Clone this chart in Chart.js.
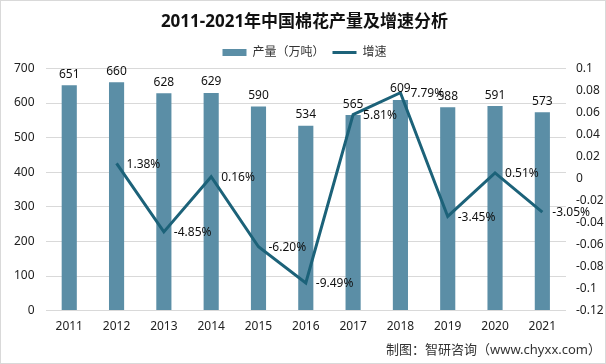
<!DOCTYPE html>
<html>
<head>
<meta charset="utf-8">
<script src="https://cdn.jsdelivr.net/npm/chart.js@4"></script>
<style>
  html, body { margin: 0; padding: 0; background: #fff; }
  #wrap { width: 606px; height: 364px; }
</style>
</head>
<body>
<div id="wrap"><canvas id="myChart" width="606" height="364"></canvas></div>
<script>
const years = ['2011', '2012', '2013', '2014', '2015', '2016', '2017', '2018', '2019', '2020', '2021'];
const output = [651, 660, 628, 629, 590, 534, 565, 609, 588, 591, 573];
const growth = [null, 1.38, -4.85, 0.16, -6.20, -9.49, 5.81, 7.79, -3.45, 0.51, -3.05];
const leftTicks = [0, 100, 200, 300, 400, 500, 600, 700];
const rightTicks = [-0.12, -0.1, -0.08, -0.06, -0.04, -0.02, 0, 0.02, 0.04, 0.06, 0.08, 0.1];

const barColor = '#5b8ea6';
const lineColor = '#1c6279';
const font = '"Noto Sans", "Noto Sans CJK SC", sans-serif';

const cts = document.querySelector('#myChart').getContext('2d');

// value labels, footer and frame
const extras = {
    id: 'extras',
    beforeDraw(chart) {
        const c = chart.ctx;
        c.save();
        c.fillStyle = '#fff';
        c.fillRect(0, 0, chart.width, chart.height);
        c.restore();
    },
    afterDatasetsDraw(chart) {
        const c = chart.ctx;
        c.save();
        c.font = '12px ' + font;
        c.fillStyle = '#111';
        const bars = chart.getDatasetMeta(0).data;
        c.textAlign = 'center';
        c.textBaseline = 'bottom';
        bars.forEach((b, i) => {
            c.fillText(String(output[i]), b.x, b.y - 5);
        });
        const pts = chart.getDatasetMeta(1).data;
        c.textAlign = 'left';
        c.textBaseline = 'middle';
        pts.forEach((p, i) => {
            if (growth[i] === null) return;
            c.fillText(growth[i].toFixed(2) + '%', p.x + 10, p.y + 1);
        });
        c.restore();
    },
    afterDraw(chart) {
        const c = chart.ctx;
        c.save();
        c.font = '13px ' + font;
        c.fillStyle = '#333';
        c.textAlign = 'right';
        c.textBaseline = 'middle';
        c.fillText('制图：智研咨询（www.chyxx.com）', 601, 350);
        c.strokeStyle = '#d9d9d9';
        c.lineWidth = 1;
        c.strokeRect(0.5, 0.5, chart.width - 1, chart.height - 1);
        c.restore();
    }
};

const data = {
    labels: years,
    datasets: [
        {
            type: 'bar',
            label: '产量（万吨）',
            data: output,
            backgroundColor: barColor,
            borderWidth: 0,
            barPercentage: 0.32,
            categoryPercentage: 1,
            yAxisID: 'y',
            order: 1,
        },
        {
            type: 'line',
            label: '增速',
            data: growth.map(v => v === null ? null : v / 100),
            borderColor: lineColor,
            backgroundColor: lineColor,
            borderWidth: 3,
            pointRadius: 0,
            tension: 0,
            yAxisID: 'y1',
            order: 0,
        },
    ],
};

const config = {
    type: 'bar',
    data: data,
    plugins: [extras],
    options: {
        responsive: false,
        animation: false,
        layout: { padding: { left: 3, right: 0, top: 0, bottom: 21 } },
        plugins: {
            tooltip: { enabled: false },
            title: {
                display: true,
                text: '2011-2021年中国棉花产量及增速分析',
                color: '#111',
                font: { family: font, size: 17, weight: 'bold' },
                padding: { top: 12, bottom: 6 },
            },
            legend: {
                display: true,
                labels: {
                    usePointStyle: true,
                    pointStyleWidth: 24,
                    boxHeight: 7,
                    color: '#333',
                    font: { family: font, size: 12 },
                    padding: 8,
                    sort: (a, b) => a.datasetIndex - b.datasetIndex,
                    generateLabels(chart) {
                        const items = Chart.defaults.plugins.legend.labels.generateLabels(chart);
                        items.forEach(it => {
                            if (it.datasetIndex === 0) {
                                it.pointStyle = 'rect';
                                it.lineWidth = 0;
                                it.fillStyle = barColor;
                            } else {
                                it.pointStyle = 'line';
                                it.lineWidth = 3;
                                it.strokeStyle = lineColor;
                            }
                        });
                        return items;
                    },
                },
            },
        },
        scales: {
            x: {
                grid: { display: false, drawTicks: false },
                border: { display: false },
                ticks: { color: '#222', font: { family: font, size: 12 }, padding: 9 },
            },
            y: {
                position: 'left',
                min: 0,
                max: 700,
                afterBuildTicks: axis => { axis.ticks = leftTicks.map(v => ({ value: v })); },
                grid: { color: '#d9d9d9', drawTicks: false },
                border: { display: false },
                ticks: { color: '#222', font: { family: font, size: 12 }, padding: 11 },
            },
            y1: {
                position: 'right',
                min: -0.12,
                max: 0.1,
                afterBuildTicks: axis => { axis.ticks = rightTicks.map(v => ({ value: v })); },
                afterFit: axis => { axis.width = 40; },
                grid: { display: false, drawTicks: false },
                border: { display: false },
                ticks: {
                    color: '#222',
                    font: { family: font, size: 12 },
                    padding: 10,
                    callback: value => String(Number(value.toFixed(2))),
                },
            },
        },
    },
};

const myChart = new Chart(cts, config);
</script>
</body>
</html>
